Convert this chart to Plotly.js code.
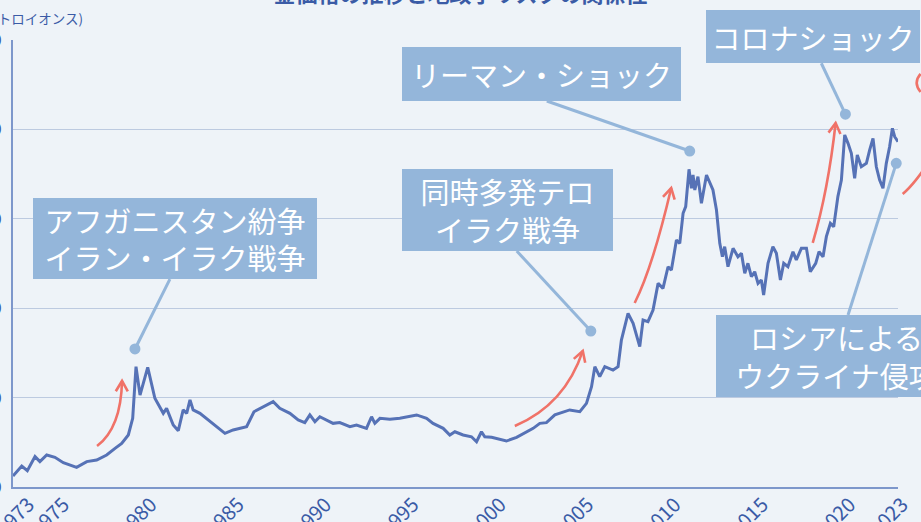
<!DOCTYPE html>
<html>
<head>
<meta charset="utf-8">
<script src="https://cdn.plot.ly/plotly-3.0.1.min.js"></script>
<style>
  html, body { margin: 0; padding: 0; width: 921px; height: 522px; overflow: hidden; background: #eef3f8; }
  #chart { position: absolute; left: -60px; top: -40px; width: 1058px; height: 607px; }
</style>
</head>
<body>
<div id="chart"></div>
<script>
// ---- data (gold price, USD per troy ounce) ----
const years = [
  1973.00,1973.50,1973.82,1974.26,1974.54,1974.93,1975.40,1975.88,1976.64,1977.22,
  1977.79,1978.36,1978.84,1979.22,1979.60,1979.85,1980.04,1980.27,1980.71,1981.12,
  1981.60,1981.79,1982.17,1982.46,1982.74,1982.94,1983.13,1983.31,1983.70,1984.17,
  1985.13,1985.60,1986.37,1986.79,1987.32,1987.89,1988.27,1988.85,1989.32,1989.70,
  1989.99,1990.28,1990.56,1990.95,1991.32,1991.70,1992.28,1992.66,1993.23,1993.52,
  1993.71,1994.00,1994.57,1995.14,1996.10,1996.67,1997.04,1997.62,1998.00,1998.29,
  1998.76,1999.24,1999.53,1999.81,2000.00,2000.39,2000.86,2001.24,2001.82,2002.39,
  2002.77,2003.15,2003.53,2004.01,2004.29,2004.86,2005.44,2005.82,2006.11,2006.30,
  2006.58,2006.87,2007.34,2007.63,2007.82,2008.20,2008.49,2008.87,2009.06,2009.34,
  2009.63,2009.92,2010.20,2010.49,2010.68,2010.97,2011.16,2011.35,2011.50,2011.69,
  2011.83,2011.92,2012.02,2012.20,2012.40,2012.69,2013.06,2013.26,2013.45,2013.60,
  2013.73,2013.92,2014.21,2014.49,2014.69,2014.88,2015.06,2015.26,2015.45,2015.64,
  2015.83,2015.96,2016.21,2016.49,2016.69,2016.92,2017.11,2017.35,2017.64,2017.83,
  2018.12,2018.41,2018.63,2018.94,2019.13,2019.36,2019.55,2019.78,2019.97,2020.21,
  2020.41,2020.60,2020.79,2020.98,2021.17,2021.32,2021.55,2021.84,2022.03,2022.22,
  2022.41,2022.60,2022.79,2022.98,2023.17,2023.33,2023.46,2023.65
];
const goldPrice = [
  62,117,91,170,142,179,166,136,110,142,
  151,179,216,244,291,384,673,514,669,496,
  412,440,347,315,431,412,487,431,412,375,
  300,319,337,421,449,477,440,412,375,360,
  403,365,393,375,356,360,337,347,328,393,
  356,384,379,384,403,384,356,328,291,309,
  291,281,253,309,281,278,267,257,278,309,
  328,356,360,403,412,431,421,468,561,673,
  617,673,654,673,822,971,915,785,934,925,
  990,1139,1111,1232,1213,1381,1363,1531,1568,1777,
  1671,1745,1661,1736,1587,1745,1661,1549,1363,1288,
  1344,1232,1335,1288,1307,1195,1251,1176,1204,1139,
  1158,1074,1251,1344,1307,1158,1251,1232,1316,1270,
  1335,1335,1204,1251,1316,1288,1400,1475,1456,1624,
  1717,1969,1922,1866,1727,1857,1791,1810,1885,1950,
  1791,1717,1671,1810,1903,2006,1959,1931
];
const tickYears = [1973,1975,1980,1985,1990,1995,2000,2005,2010,2015,2020,2023];
const tickLabels = tickYears.map(String);

// events (label text, where the pointer dot sits on the time/price plane)
const eventLabels = [
  "アフガニスタン紛争<br>イラン・イラク戦争",
  "同時多発テロ<br>イラク戦争",
  "リーマン・ショック",
  "コロナショック",
  "ロシアによる<br>ウクライナ侵攻"
];
const eventDotYear  = [1979.98, 2006.07, 2011.73, 2020.64, 2023.55];
const eventDotPrice = [772, 872, 1879, 2085, 1810];

// ---- geometry / style helpers ----
const X0 = 1973, X1 = 2023.65, Y1 = 2500, PW = 885, PH = 447;
const px = t => (t - X0) / (X1 - X0);
const py = v => v / Y1;

const boxColor = "#94b6da";
const redColor = "#f07268";
const textBlue = "#3a5ba6";

// label boxes: centre (year, price) and pixel size
const boxes = [
  {c:[1982.27,1390], w:284, h:81},
  {c:[2001.29,1549], w:211, h:82},
  {c:[2003.23,2310], w:279, h:54},
  {c:[2018.77,2520], w:214, h:53},
  {c:[2020.11, 733], w:241, h:82}
];
// connector start points on the boxes
const connStart = [[1981.98,1163],[2001.83,1320],[2003.55,2159],[2019.26,2370],[2020.79,962]];

// red "rising" arrows (tail, control, tip) on the time/price plane
const arrows = [
  {a:[1977.81,229], c:[1979.18,330], b:[1979.24,593], head:true},
  {a:[2001.72,341], c:[2004.58,459], b:[2005.61,761], head:true},
  {a:[2008.58,1029], c:[2009.61,1230], b:[2010.67,1672], head:true},
  {a:[2018.77,1365], c:[2019.66,1661], b:[2020.08,2036], head:true},
  {a:[2023.92,1639], c:[2024.61,1695], b:[2025.57,1840], head:false},
  {a:[2024.94,2209], c:[2024.50,2260], b:[2024.94,2310], head:false}
];

const shapes = [];
const annotations = [];

// connectors + dots
for (let i = 0; i < eventLabels.length; i++) {
  shapes.push({type:"line", xref:"paper", yref:"paper", layer:"above",
    x0:px(connStart[i][0]), y0:py(connStart[i][1]),
    x1:px(eventDotYear[i]), y1:py(eventDotPrice[i]),
    line:{color:boxColor, width:3}});
  shapes.push({type:"circle", xref:"paper", yref:"paper", layer:"above",
    xsizemode:"pixel", ysizemode:"pixel",
    xanchor:px(eventDotYear[i]), yanchor:py(eventDotPrice[i]),
    x0:-5.5, x1:5.5, y0:-5.5, y1:5.5,
    fillcolor:boxColor, line:{width:0}});
}

// arrows
arrows.forEach(ar => {
  const A = [px(ar.a[0]), py(ar.a[1])], C = [px(ar.c[0]), py(ar.c[1])], B = [px(ar.b[0]), py(ar.b[1])];
  shapes.push({type:"path", xref:"paper", yref:"paper", layer:"above",
    path:`M ${A[0]},${A[1]} Q ${C[0]},${C[1]} ${B[0]},${B[1]}`,
    line:{color:redColor, width:2.6}});
  if (ar.head) {
    const bx = B[0]*PW, by = B[1]*PH, cx = C[0]*PW, cy = C[1]*PH;
    let dx = bx - cx, dy = by - cy; const L = Math.hypot(dx, dy); dx /= L; dy /= L;
    const len = 12, ang = 30 * Math.PI / 180;
    const wing = s => {
      const ca = Math.cos(s*ang), sa = Math.sin(s*ang);
      const rx = dx*ca - dy*sa, ry = dx*sa + dy*ca;
      return [(bx - len*rx)/PW, (by - len*ry)/PH];
    };
    const w1 = wing(1), w2 = wing(-1);
    shapes.push({type:"path", xref:"paper", yref:"paper", layer:"above",
      path:`M ${w1[0]},${w1[1]} L ${B[0]},${B[1]} L ${w2[0]},${w2[1]}`,
      line:{color:redColor, width:2.6}});
  }
});

// label boxes
boxes.forEach((b, i) => {
  annotations.push({xref:"paper", yref:"paper", x:px(b.c[0]), y:py(b.c[1]),
    xanchor:"center", yanchor:"middle", showarrow:false,
    text:eventLabels[i], width:b.w, height:b.h, bgcolor:boxColor,
    borderpad:0, borderwidth:0, align:"center", valign:"middle",
    font:{family:"Noto Sans CJK JP", size:29, color:"#ffffff"}});
});

// y-axis unit
annotations.push({xref:"paper", yref:"paper", x:0.0814, y:1.049, xanchor:"right", yanchor:"middle",
  showarrow:false, text:"(ドル/トロイオンス)",
  font:{family:"Noto Sans CJK JP", size:13.5, color:textBlue}});

const tickVals = tickYears.map(y => Math.min(Math.max(y + 0.55, X0 + 0.17), X1 - 0.08));

const trace = {
  x: years, y: goldPrice, type:"scatter", mode:"lines",
  line:{color:"#5672b6", width:3}, hoverinfo:"skip"
};

const layout = {
  width:1058, height:607,
  margin:{l:73, r:100, t:80, b:80},
  paper_bgcolor:"#eef3f8", plot_bgcolor:"#eef3f8",
  showlegend:false,
  title:{text:"<b>金価格の推移と地政学リスクの関係性</b>", xref:"container", yref:"container",
    x:0.492, xanchor:"center", y:1 - 34/607, yanchor:"middle",
    font:{family:"Noto Sans CJK JP", size:22, color:textBlue}},
  xaxis:{range:[X0, X1], tickmode:"array", tickvals:tickVals, ticktext:tickLabels,
    tickangle:-45, tickfont:{family:"Noto Sans CJK JP", size:20, color:textBlue},
    ticklabelshift:6, ticklabelstandoff:-4,
    showgrid:false, zeroline:false, showline:true, linecolor:"#7d97cb", linewidth:2, ticks:""},
  yaxis:{range:[0, Y1], dtick:500, tickformat:",d", gridcolor:"#bccae0", gridwidth:1,
    zeroline:false, showline:true, linecolor:"#7d97cb", linewidth:2, ticks:"",
    ticklabelstandoff:6, tickfont:{family:"Noto Sans CJK JP", size:17, color:textBlue}},
  shapes: shapes,
  annotations: annotations
};

Plotly.newPlot("chart", [trace], layout, {staticPlot:true, displayModeBar:false});
</script>
</body>
</html>
